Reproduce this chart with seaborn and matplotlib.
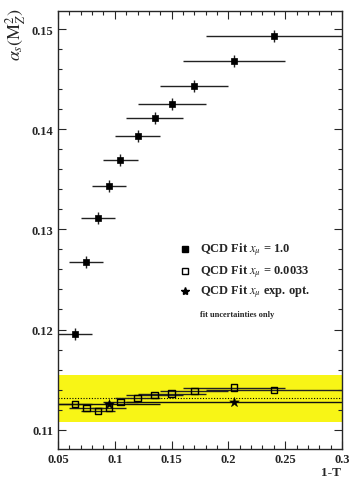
import numpy as np
import pandas as pd
import matplotlib
matplotlib.use("Agg")
import matplotlib.pyplot as plt
import seaborn as sns
from matplotlib.ticker import MultipleLocator, FixedLocator

# ---- data ----
x_fixed = [0.065, 0.075, 0.085, 0.095, 0.105, 0.12, 0.135, 0.15, 0.17, 0.205, 0.24]
xerr_bins = [0.015, 0.015, 0.015, 0.015, 0.015, 0.02, 0.025, 0.03, 0.03, 0.045, 0.06]
as_fit_1 = [0.1196, 0.1267, 0.1311, 0.1343, 0.1369, 0.1393, 0.1411, 0.1425, 0.1443, 0.1468, 0.1493]
as_fit_1_err = [0.0006] * 11
as_fit_opt = [0.11257, 0.11214, 0.11184, 0.1122, 0.11277, 0.11314, 0.11347, 0.1136, 0.11387, 0.1142, 0.11397]
x_star = [0.095, 0.205]
xerr_star = [0.045, 0.095]
as_star = [0.11254, 0.1128]
band_center = 0.11315
band_halfwidth = 0.00235

legend_labels = [r"QCD Fit $x_{\mu}$ = 1.0", r"QCD Fit $x_{\mu}$ = 0.0033", r"QCD Fit $x_{\mu}$ exp. opt."]
note = "fit uncertainties only"

df1 = pd.DataFrame({"x": x_fixed, "y": as_fit_1})
df2 = pd.DataFrame({"x": x_fixed, "y": as_fit_opt})
df3 = pd.DataFrame({"x": x_star, "y": as_star})

sns.set_style("ticks")
plt.rcParams["font.family"] = ["Liberation Serif", "DejaVu Serif"]
plt.rcParams["mathtext.fontset"] = "stix"

fig = plt.figure(figsize=(3.5, 4.81), dpi=100)
ax = fig.add_axes([58/350, 31/481, 284/350, 438/481])

ax.axhspan(band_center - band_halfwidth, band_center + band_halfwidth, color="#f8f516", lw=0, zorder=0)
ax.axhline(band_center, color="black", ls=(0, (1, 1.5)), lw=0.8, zorder=1)

ax.errorbar(x_fixed, as_fit_1, xerr=xerr_bins, yerr=as_fit_1_err, fmt="none",
            ecolor="#222222", elinewidth=1.0, capsize=0, zorder=2)
ax.errorbar(x_fixed, as_fit_opt, xerr=xerr_bins, fmt="none",
            ecolor="#222222", elinewidth=1.0, capsize=0, zorder=2)
ax.errorbar(x_star, as_star, xerr=xerr_star, fmt="none",
            ecolor="#111111", elinewidth=1.0, capsize=0, zorder=2)

sns.scatterplot(data=df1, x="x", y="y", marker="s", s=24, color="black",
                edgecolor="black", linewidth=0.5, ax=ax, zorder=3)
sns.scatterplot(data=df2, x="x", y="y", marker="s", s=22, facecolor="none",
                edgecolor="black", linewidth=1.0, ax=ax, zorder=3)
sns.scatterplot(data=df3, x="x", y="y", marker="*", s=55, color="black",
                edgecolor="black", linewidth=0.3, ax=ax, zorder=3)

ax.set_xlim(0.05, 0.3)
ax.set_ylim(0.10807, 0.1518)
ax.xaxis.set_major_locator(FixedLocator([0.05, 0.1, 0.15, 0.2, 0.25, 0.3]))
ax.xaxis.set_minor_locator(MultipleLocator(0.01))
ax.yaxis.set_major_locator(FixedLocator([0.11, 0.12, 0.13, 0.14, 0.15]))
ax.yaxis.set_minor_locator(MultipleLocator(0.002))
ax.set_xticklabels(["0.05", "0.1", "0.15", "0.2", "0.25", "0.3"])
ax.set_yticklabels(["0.11", "0.12", "0.13", "0.14", "0.15"])
ax.tick_params(which="both", direction="in", top=True, right=True, width=0.8)
ax.tick_params(which="major", length=6, labelsize=9)
ax.tick_params(axis="x", which="major", pad=3)
ax.tick_params(which="minor", length=3)
for lab in ax.get_xticklabels() + ax.get_yticklabels():
    lab.set_fontweight("bold")
for sp in ax.spines.values():
    sp.set_linewidth(1.0)
ax.set_xlabel("")
ax.set_ylabel("")

fig.text(331/350, 1 - 473/481, "1-T", ha="center", va="center", fontsize=9.5, fontweight="bold")
fig.text(16/350, 1 - 8/481, r"$\alpha_s(\mathrm{M}_Z^2)$", rotation=90, ha="center", va="top", fontsize=13)

# legend (manual)
rows_y = [0.4566, 0.4075, 0.361]
mk = [dict(marker="s", ms=5, mfc="black", mec="black"),
      dict(marker="s", ms=5, mfc="white", mec="black", mew=1.0),
      dict(marker="*", ms=6, mfc="black", mec="black")]
for yy, lab, m in zip(rows_y, legend_labels, mk):
    ax.plot([0.447], [yy], transform=ax.transAxes, ls="none", clip_on=False, **m)
    ax.text(0.50, yy, lab, transform=ax.transAxes, ha="left", va="center",
            fontsize=9, fontweight="bold")
ax.text(0.50, 0.308, note, transform=ax.transAxes, ha="left", va="center",
        fontsize=6, fontweight="bold")

fig.savefig("out.png", dpi=100)
